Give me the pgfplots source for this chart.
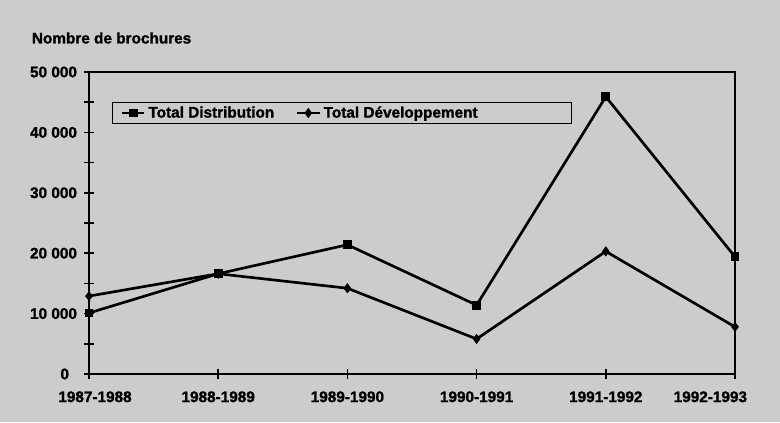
\documentclass[border=0pt]{standalone}
\usepackage{fontspec}
\setmainfont{Liberation Sans}[BoldFeatures={FakeBold=1.3}]
\usepackage{pgfplots}
\pgfplotsset{compat=1.18}
\definecolor{bg}{gray}{0.80}
\begin{document}
\begin{tikzpicture}
\path[use as bounding box, fill=bg] (-66.75pt,-36pt) rectangle (518.25pt,280.5pt);
\node[anchor=west, font=\fontsize{11.5}{13}\selectfont\bfseries, inner sep=0pt] at (-43pt,252pt) {Nombre de brochures};
\begin{axis}[
  at={(0,0)}, anchor=south west, scale only axis,
  width=484.5pt, height=226.5pt,
  xmin=0, xmax=5, ymin=0, ymax=50000, clip=false,
  axis line style={line width=0.9pt, black},
  xtick={0,...,5},
  xticklabels={\kern9pt 1987-1988,1988-1989,1989-1990,1990-1991,1991-1992,1992-1993\kern37pt},
  ytick={0,10000,20000,30000,40000,50000},
  yticklabels={0\kern6pt,10 000,20 000,30 000,40 000,50 000},
  minor ytick={5000,15000,...,45000},
  tick align=center, major tick length=7pt, minor tick length=7pt,
  tick style={line width=1.3pt, black},
  minor tick style={line width=1.3pt, black},
  tick pos=left,
  scaled y ticks=false,
  every tick label/.append style={font=\fontsize{11.5}{13}\selectfont\bfseries},
  xticklabel style={yshift=-6pt},
  yticklabel style={xshift=-2pt},
  legend columns=3,
  legend style={at={(0.0356,0.9007)}, anchor=north west, draw=black, line width=0.6pt,
    fill=none, font=\fontsize{11.5}{13}\selectfont\bfseries, inner ysep=1pt, inner xsep=6pt,
    /tikz/every even column/.append style={column sep=14pt}},
]
\addplot[black, line width=2pt, mark=square*, mark size=2.3pt] coordinates {(0,10100)(1,16600)(2,21400)(3,11400)(4,45900)(5,19400)};
\addlegendentry{Total Distribution}
\addplot[black, line width=2pt, mark=diamond*, mark size=2.2pt] coordinates {(0,12900)(1,16600)(2,14200)(3,5800)(4,20300)(5,7800)};
\addlegendentry{Total Développement}
\addlegendimage{empty legend}
\addlegendentry{\kern44pt}
\draw[line width=2.2pt, black] (rel axis cs:0,1) -- (rel axis cs:0,0) -- (rel axis cs:1,0);
\end{axis}
\end{tikzpicture}
\end{document}
